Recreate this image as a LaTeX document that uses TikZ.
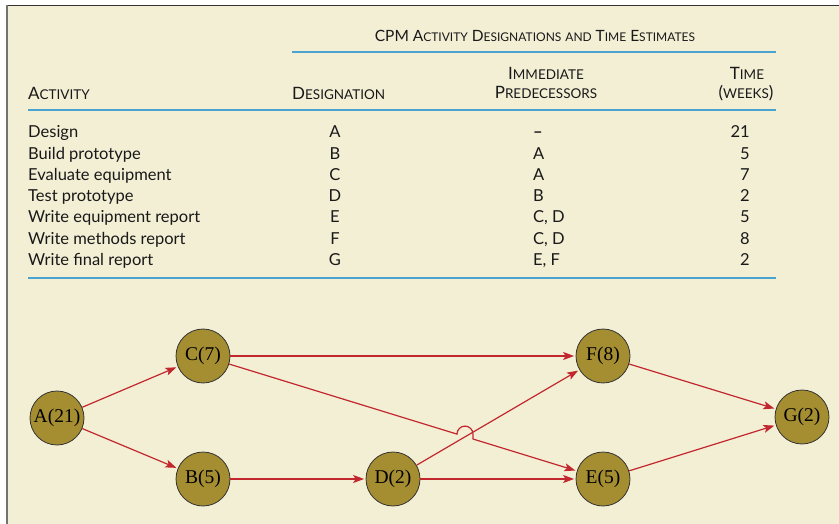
\documentclass[tikz,border=0pt]{standalone}
\usepackage{xcolor}
\usepackage{fontspec}
\setmainfont{Lato}
\newfontfamily\nodefont{Liberation Serif}
\usepackage[]{tikz}
\usetikzlibrary{positioning,calc}
\usetikzlibrary{arrows.meta,arrows}
\definecolor{paperCream}{HTML}{F3EFD5}
\definecolor{nodeOlive}{HTML}{A58E31}
\definecolor{flowRed}{HTML}{C1272D}
\definecolor{ruleBlue}{HTML}{4BA3D0}
\newcommand{\smcap}[3][13.5]{#2{\fontsize{#1}{#1}\selectfont #3}}
\tikzstyle{nodeOl}  =[circle,fill=nodeOlive,draw=black!80,line width=0.8pt,minimum size=54pt,inner sep=0pt,font=\nodefont\fontsize{19.5}{19.5}\selectfont]
\tikzstyle{flow}    =[->,flowRed,line width=1.2pt,shorten >=1.5pt]
\tikzstyle{rule}    =[ruleBlue,line width=2pt]
\tikzstyle{cell}    =[anchor=base west,inner sep=0pt,text=black!90,font=\fontsize{16.5}{16.5}\selectfont]
\tikzstyle{head}    =[cell,font=\fontsize{17}{17}\selectfont]

\begin{document}
\begin{tikzpicture}[x=1pt,y=-1pt,>={Stealth[length=11pt,width=8pt,inset=2.5pt]},auto,on grid]
      \useasboundingbox (0,0) rectangle (839,524);
      % page and frame
      \fill[paperCream] (6,5) rectangle (839,524);
      \draw[black!80,line width=1.5pt] (6,5.5) -- (839,5.5);
      \draw[black!55,line width=2pt] (6.5,5) -- (6.5,524);

      % table head
      \node[head,anchor=base,font=\fontsize{15.5}{15.5}\selectfont] (title) at (535,42)
        {CPM \smcap[12]{A}{CTIVITY} \smcap[12]{D}{ESIGNATIONS} \smcap[12]{}{AND} \smcap[12]{T}{IME} \smcap[12]{E}{STIMATES}};
      \draw[rule] (292,52) -- (776,52);
      \node[head] (hAct) at (28,100) {\smcap{A}{CTIVITY}};
      \node[head] (hDes) at (292,100) {\smcap{D}{ESIGNATION}};
      \node[head,anchor=base] (hImm) at (546,80) {\smcap{I}{MMEDIATE}};
      \node[head,anchor=base] (hPre) at (546,99) {\smcap{P}{REDECESSORS}};
      \node[head,anchor=base] (hTim) at (747,80) {\smcap{T}{IME}};
      \node[head,anchor=base] (hWk)  at (746,99) {(\smcap{}{WEEKS})};
      \draw[rule] (28,110) -- (776,110);

      % table rows
      \foreach \act/\des/\pre/\wk [count=\r] in {Design/A/\textbf{--}/21, Build prototype/B/A/5,
          Evaluate equipment/C/A/7, Test prototype/D/B/2, Write equipment report/E/{C, D}/5,
          Write methods report/F/{C, D}/8, Write final report/G/{E, F}/2}{
        \node[cell] (act\r) at (28,{138+21.2*(\r-1)}) {\act};
        \node[cell,anchor=base] (des\r) at (335,{138+21.2*(\r-1)}) {\des};
        \node[cell] (pre\r) at (533,{138+21.2*(\r-1)}) {\pre};
        \node[cell,anchor=base east] (wk\r) at (750,{138+21.2*(\r-1)}) {\wk};
      }
      \draw[rule] (28,278) -- (776,278);

      % network
      \node[nodeOl] (A) at (57,418) {A(21)};
      \node[nodeOl] (C) [above right = 62pt and 146pt of A] {C(7)};
      \node[nodeOl] (B) [below right = 61pt and 146pt of A] {B(5)};
      \node[nodeOl] (D) [right = 190pt of B] {D(2)};
      \node[nodeOl] (F) [right = 400pt of C] {F(8)};
      \node[nodeOl] (E) [right = 210pt of D] {E(5)};
      \node[nodeOl] (G) [above right = 62pt and 199pt of E] {G(2)};
      \coordinate (hopL) at ($(C)!0.635!(E)$);
      \coordinate (hopR) at ($(C)!0.675!(E)$);
      \draw[flow] (A) edge[] (C);
      \draw[flow] (A) edge[] (B);
      \draw[flow] (B) edge[] (D);
      \draw[flow] (C) edge[] (F);
      \draw[flow] (D) edge[] (F);
      \draw[flow] (D) edge[] (E);
      \draw[flow] (F) edge[] (G);
      \draw[flow] (E) edge[] (G);
      \draw[flow] (C) -- (hopL) arc[start angle=180,end angle=0,radius=8pt] -- (hopR) -- (E);
    \end{tikzpicture}
\end{document}
